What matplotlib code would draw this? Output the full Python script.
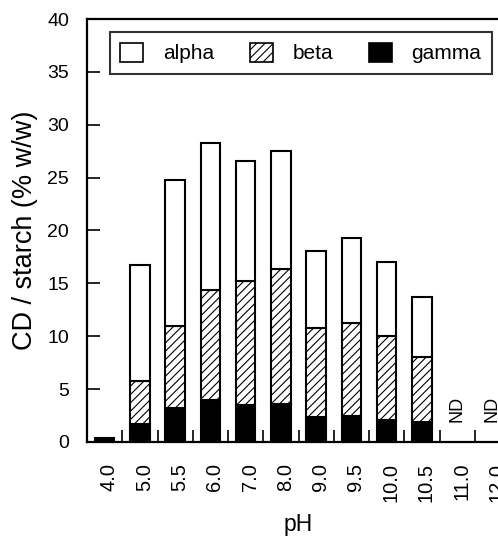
import matplotlib
matplotlib.use("Agg")
import matplotlib.pyplot as plt
import matplotlib.transforms as mtransforms
import numpy as np
from matplotlib.patches import Patch

plt.rcParams['font.family'] = ['Liberation Sans', 'DejaVu Sans']
plt.rcParams['hatch.linewidth'] = 0.8

categories = ["4.0", "5.0", "5.5", "6.0", "7.0", "8.0", "9.0", "9.5", "10.0", "10.5", "11.0", "12.0"]
gamma = [0.4, 1.7, 3.2, 4.0, 3.5, 3.6, 2.4, 2.5, 2.1, 1.9, 0, 0]
beta = [0.0, 4.1, 7.8, 10.4, 11.7, 12.8, 8.4, 8.8, 7.9, 6.1, 0, 0]
alpha = [0.0, 10.9, 13.8, 13.9, 11.4, 11.1, 7.3, 8.0, 7.0, 5.7, 0, 0]
nd_labels = ["11.0", "12.0"]

fig = plt.figure(figsize=(4.98, 5.40), dpi=100)
ax = fig.add_axes([87/498, 1 - 442/540, 423/498, 423/540])

x = np.arange(len(categories))
g = np.array(gamma)
b = np.array(beta)
a = np.array(alpha)
w = 0.55
lw = 1.5
mask = (g + b + a) > 0
ax.bar(x[mask], g[mask], w, color='black', edgecolor='black', linewidth=lw)
mb = b > 0
ax.bar(x[mb], b[mb], w, bottom=g[mb], color='white', edgecolor='black', hatch='////', linewidth=lw)
ma = a > 0
ax.bar(x[ma], a[ma], w, bottom=(g + b)[ma], color='white', edgecolor='black', linewidth=lw)

for c in nd_labels:
    i = categories.index(c)
    ax.text(i, 1.9, "ND", rotation=90, ha='center', va='bottom', fontsize=13)

ax.set_xlim(-0.5, len(categories) - 0.5)
ax.set_ylim(0, 40)
ax.set_yticks(np.arange(0, 41, 5))
ax.set_xticks(np.arange(0.5, len(categories) - 0.5, 1.0))
ax.set_xticklabels([])
ax.set_xticks(x, categories, minor=True)
ax.tick_params(axis='x', which='minor', length=0, pad=15, labelsize=14.5, rotation=90)
ax.tick_params(axis='x', which='major', direction='in', length=9, width=1.2)
ax.tick_params(axis='y', direction='in', length=9.5, width=1.2, pad=13, labelsize=14)
offset = mtransforms.ScaledTranslation(0.045, 0, fig.dpi_scale_trans)
for lab in ax.get_xticklabels(minor=True):
    lab.set_transform(lab.get_transform() + offset)
for s in ax.spines.values():
    s.set_linewidth(1.6)

ax.set_ylabel("CD / starch (% w/w)", fontsize=19.5)
ax.yaxis.set_label_coords(-0.116, 0.5)
ax.set_xlabel("pH", fontsize=16.5)
ax.xaxis.set_label_coords(0.5, -0.168)

handles = [Patch(facecolor='white', edgecolor='black', linewidth=1.2),
           Patch(facecolor='white', edgecolor='black', hatch='////', linewidth=1.2),
           Patch(facecolor='black', edgecolor='black', linewidth=1.2)]
leg = ax.legend(handles, ["alpha", "beta", "gamma"], ncol=3, loc='upper left',
                bbox_to_anchor=(0.054, 0.969 - 0.108, 0.903, 0.108), mode='expand',
                fontsize=15, frameon=True, fancybox=False, handlelength=1.1,
                handleheight=1.05, borderaxespad=0, handletextpad=0.95,
                borderpad=0.5, columnspacing=1.15)
leg.get_frame().set_edgecolor('black')
leg.get_frame().set_linewidth(1.5)

fig.savefig("out.png", dpi=100)
